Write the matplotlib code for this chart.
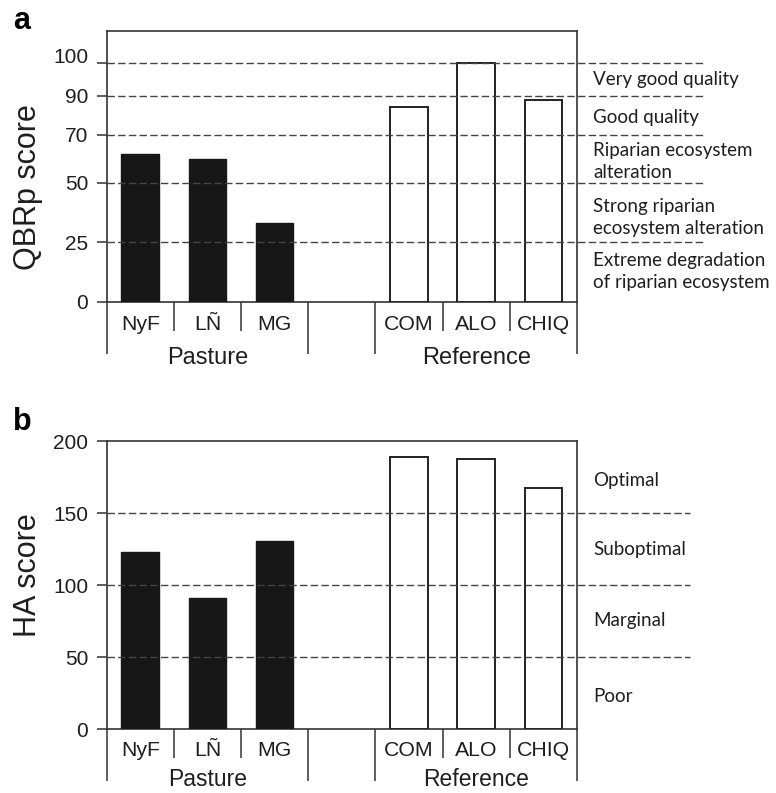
import matplotlib
matplotlib.use('Agg')
import matplotlib.pyplot as plt
import matplotlib.transforms as mtransforms
from matplotlib.ticker import NullLocator
import numpy as np

plt.rcParams['font.family'] = ['Liberation Sans', 'DejaVu Sans']

# ---------------- data ----------------
pasture_sites = ['NyF', 'LÑ', 'MG']
reference_sites = ['COM', 'ALO', 'CHIQ']
group_names = ['Pasture', 'Reference']

qbr_pasture = [62, 60, 33]
qbr_reference = [84, 100, 88]
ha_pasture = [123, 91, 131]
ha_reference = [189, 188, 168]

qbr_ticks = [0, 25, 50, 70, 90, 100]
qbr_tick_labels = ['0', '25', '50', '70', '90', '100']
qbr_thresholds = [25, 50, 70, 90, 100]
qbr_classes = ['Extreme degradation\nof riparian ecosystem',
               'Strong riparian\necosystem alteration',
               'Riparian ecosystem\nalteration',
               'Good quality',
               'Very good quality']

ha_ticks = [0, 50, 100, 150, 200]
ha_tick_labels = ['0', '50', '100', '150', '200']
ha_thresholds = [50, 100, 150]
ha_classes = ['Poor', 'Marginal', 'Suboptimal', 'Optimal']

# printed QBRp axis is not evenly spaced (value -> drawn position)
qbr_axis_values = [0, 25, 50, 70, 90, 100, 130]
qbr_axis_positions = [0, 25, 50, 70, 86.5, 100, 130]

# ---------------- layout ----------------
W, H = 776, 793
fig = plt.figure(figsize=(W / 100, H / 100), dpi=100)

LINE = '#333333'
TXT = '#1e1e1e'
DASH = '#444444'

ax1 = fig.add_axes([106.7 / W, 1 - 301.7 / H, 470.3 / W, 270.7 / H])
ax2 = fig.add_axes([106.7 / W, 1 - 729.3 / H, 470.3 / W, 287.8 / H])

n_slots = len(pasture_sites) + 1 + len(reference_sites)
x_pasture = np.arange(len(pasture_sites))
x_reference = np.arange(len(reference_sites)) + len(pasture_sites) + 1
bar_w = 0.56


def style_panel(ax, ax_h_px, ticks, tick_labels, ylabel, ylab_y,
                thresholds, classes, class_y, dash_end, ylim,
                cat_off, grp_off, grp_size):
    ax.set_xlim(-0.5, n_slots - 0.5)
    ax.set_ylim(*ylim)
    for s in ax.spines.values():
        s.set_color(LINE)
        s.set_linewidth(1.2)
    ax.set_xticks([])
    ax.set_yticks(ticks)
    ax.set_yticklabels(tick_labels)
    ax.yaxis.set_minor_locator(NullLocator())
    ax.tick_params(axis='y', direction='out', length=7.2, width=1.1,
                   color=LINE, labelsize=15, labelcolor=TXT, pad=6)
    ax.set_ylabel(ylabel, fontsize=22, color=TXT)
    ax.yaxis.set_label_coords(-0.135, ylab_y)

    # dashed class limits extending beyond the box
    tr_line = mtransforms.blended_transform_factory(ax.transAxes, ax.transData)
    for t in thresholds:
        ax.plot([0, dash_end], [t, t], transform=tr_line, clip_on=False,
                color=DASH, lw=1.0, dashes=(5.3, 2.4), zorder=5)
    for lab, yy in zip(classes, class_y):
        ax.text(1.035, yy, lab, transform=tr_line, ha='left', va='center',
                fontsize=13.5, family=['Lato', 'DejaVu Sans'], color=TXT,
                linespacing=1.35)

    # category separators and labels below the axis
    tr_x = mtransforms.blended_transform_factory(ax.transData, ax.transAxes)
    long_b = [-0.5, len(pasture_sites) - 0.5, len(pasture_sites) + 0.5, n_slots - 0.5]
    short_b = [b + 0.5 for b in list(x_pasture[:-1]) + list(x_reference[:-1])]
    ax.vlines(long_b, -52 / ax_h_px, 0, transform=tr_x, clip_on=False,
              color=LINE, lw=1.1)
    ax.vlines(short_b, -29 / ax_h_px, 0, transform=tr_x, clip_on=False,
              color=LINE, lw=1.1)
    for xi, name in zip(list(x_pasture) + list(x_reference),
                        pasture_sites + reference_sites):
        ax.annotate(name, xy=(xi, 0), xycoords=tr_x, xytext=(0, -cat_off),
                    textcoords='offset points', ha='center', va='center',
                    fontsize=15.3, color=TXT, annotation_clip=False)
    group_centers = [x_pasture.mean(), x_reference.mean()]
    for gx, gname in zip(group_centers, group_names):
        ax.annotate(gname, xy=(gx, 0), xycoords=tr_x, xytext=(0, -grp_off),
                    textcoords='offset points', ha='center', va='center',
                    fontsize=grp_size, color=TXT, annotation_clip=False)


# ---------- panel a ----------
fwd = lambda v: np.interp(v, qbr_axis_values, qbr_axis_positions)
inv = lambda p: np.interp(p, qbr_axis_positions, qbr_axis_values)
ax1.set_yscale('function', functions=(fwd, inv))

ax1.bar(x_pasture, qbr_pasture, width=bar_w, color='#171717',
        edgecolor='#171717', lw=1.0, zorder=3)
ax1.bar(x_reference, qbr_reference, width=bar_w, color='white',
        edgecolor='#222222', lw=1.4, zorder=3)

qbr_class_y = [12.7, 35.2, 59, 78.6, 95]
style_panel(ax1, 270.7, qbr_ticks, qbr_tick_labels, 'QBRp score', 0.422,
            qbr_thresholds, qbr_classes, qbr_class_y, 1.268, (0, 113.6),
            16.4, 40.8, 17)

# ---------- panel b ----------
ax2.bar(x_pasture, ha_pasture, width=bar_w, color='#171717',
        edgecolor='#171717', lw=1.0, zorder=3)
ax2.bar(x_reference, ha_reference, width=bar_w, color='white',
        edgecolor='#222222', lw=1.4, zorder=3)

ha_class_y = [22.6, 75.5, 125, 173]
style_panel(ax2, 287.8, ha_ticks, ha_tick_labels, 'HA score', 0.536,
            ha_thresholds, ha_classes, ha_class_y, 1.240, (0, 200),
            15.2, 36.0, 16.5)

# "100" label of panel a sits slightly above its tick
lab100 = ax1.get_yticklabels()[-1]
lab100.set_transform(lab100.get_transform() +
                     mtransforms.ScaledTranslation(0, 5.5 / 72, fig.dpi_scale_trans))

# panel letters
fig.text(13 / W, 1 - 29 / H, 'a', fontsize=22, fontweight='bold',
         ha='left', va='baseline', color='black')
fig.text(13 / W, 1 - 430 / H, 'b', fontsize=22, fontweight='bold',
         ha='left', va='baseline', color='black')

fig.savefig('out.png', dpi=100, facecolor='white')
